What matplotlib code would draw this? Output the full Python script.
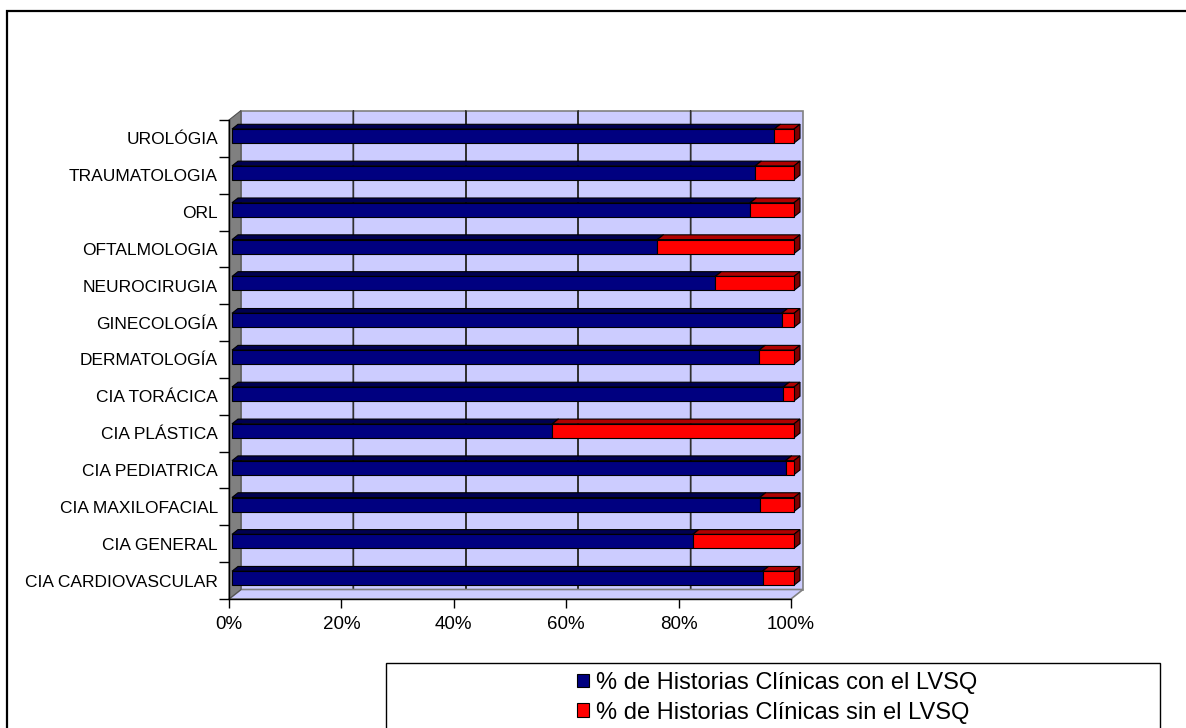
import numpy as np
import matplotlib
matplotlib.use("Agg")
import matplotlib.pyplot as plt
from matplotlib.patches import Polygon, Rectangle, Patch
from matplotlib.transforms import IdentityTransform, offset_copy

plt.rcParams['font.family'] = ['Liberation Sans', 'DejaVu Sans']

# services, listed from top to bottom as shown
servicios = ["UROLÓGIA", "TRAUMATOLOGIA", "ORL", "OFTALMOLOGIA", "NEUROCIRUGIA",
             "GINECOLOGÍA", "DERMATOLOGÍA", "CIA TORÁCICA", "CIA PLÁSTICA",
             "CIA PEDIATRICA", "CIA MAXILOFACIAL", "CIA GENERAL", "CIA CARDIOVASCULAR"]
con_lvsq = [96.5, 93.1, 92.2, 75.7, 86.0, 97.8, 93.8, 98.1, 57.0, 98.5, 93.9, 82.0, 94.4]
sin_lvsq = [100 - v for v in con_lvsq]
xticks = [0, 20, 40, 60, 80, 100]
leyenda = ["% de Historias Clínicas con el LVSQ", "% de Historias Clínicas sin el LVSQ"]

NAVY, NAVY_TOP = "#000080", "#000050"
RED, RED_TOP, RED_SIDE = "#FF0000", "#B00000", "#800000"
WALL = "#CCCCFF"

W, H = 1186, 728
fig = plt.figure(figsize=(W / 100, H / 100), dpi=100)
ax = fig.add_axes([229 / W, 1 - 599 / H, (791 - 229) / W, (599 - 120) / H])

n = len(servicios)
ypos = np.arange(n)[::-1]
ax.set_xlim(0, 100)
ax.set_ylim(-0.5, n - 0.5)
ax.set_autoscale_on(False)
ax.patch.set_visible(False)

# depth of the 3d box in pixels
DX, DY = 12, 9.5


def face(pts, **kw):
    xy = ax.transData.transform([(x, y) for x, y, d in pts])
    d = np.array([p[2] for p in pts])
    xy[:, 0] += d * DX
    xy[:, 1] += d * DY
    p = Polygon(xy, closed=True, transform=IdentityTransform(), clip_on=False, **kw)
    ax.add_artist(p)
    return p


y0, y1 = -0.5, n - 0.5
# back wall, floor, left wall
face([(0, y0, 1), (100, y0, 1), (100, y1, 1), (0, y1, 1)],
     facecolor=WALL, edgecolor="#808080", lw=1.2, zorder=0)
face([(0, y0, 0), (100, y0, 0), (100, y0, 1), (0, y0, 1)],
     facecolor=WALL, edgecolor="#808080", lw=1.2, zorder=0.5)
face([(0, y0, 0), (0, y1, 0), (0, y1, 1), (0, y0, 1)],
     facecolor="#808080", edgecolor="#505050", lw=0.8, zorder=0.6)

# gridlines on the back wall and the floor
for v in xticks[1:-1]:
    face([(v, y0, 0), (v, y0, 1), (v, y1, 1), (v, y0, 1)],
         fill=False, edgecolor="#303030", lw=1.0, zorder=0.4)

# bars: front faces with barh, then top and side faces
h = 0.38
a, b = 0.25, 0.75
front = offset_copy(ax.transData, fig=fig, x=DX * a, y=DY * a, units='dots')
lefts = [0] * n
z = 2
for vals, starts, cf, ct, cs in [(con_lvsq, lefts, NAVY, NAVY_TOP, NAVY),
                                (sin_lvsq, con_lvsq, RED, RED_TOP, RED_SIDE)]:
    for y, v, s in zip(ypos, vals, starts):
        e = s + v
        yt, yb = y + h / 2, y - h / 2
        face([(s, yt, a), (e, yt, a), (e, yt, b), (s, yt, b)],
             facecolor=ct, edgecolor="black", lw=0.8, zorder=z)
        face([(e, yb, a), (e, yt, a), (e, yt, b), (e, yb, b)],
             facecolor=cs, edgecolor="black", lw=0.8, zorder=z)
    ax.barh(ypos, vals, left=starts, height=h, color=cf, edgecolor="black",
            lw=0.8, transform=front, clip_on=False, zorder=z + 0.5)
    z += 1

# axes
for sp in ["top", "right"]:
    ax.spines[sp].set_visible(False)
for sp in ["left", "bottom"]:
    ax.spines[sp].set_color("black")
    ax.spines[sp].set_linewidth(1.0)
    ax.spines[sp].set_zorder(1)

ax.set_yticks(ypos, servicios, fontsize=12.5)
ax.set_yticks(np.arange(n + 1) - 0.5, minor=True)
ax.tick_params(axis="y", which="major", length=0, pad=8)
ax.tick_params(axis="y", which="minor", length=7.2, width=1.0, color="black")
ax.set_xticks(xticks, [f"{v}%" for v in xticks], fontsize=13.5)
ax.tick_params(axis="x", length=6.5, width=1.0, color="black", pad=5.5)

# legend box and outer border
fig.add_artist(Rectangle((386 / W, -0.05), (1160 - 386) / W, 0.05 + 1 - 663 / H,
                         transform=fig.transFigure, fill=False, edgecolor="black", lw=1.0))
fig.add_artist(Rectangle((7 / W, -0.05), 1.1, 1.05 - 11 / H,
                         transform=fig.transFigure, fill=False, edgecolor="black", lw=1.6))
handles = [Patch(facecolor=NAVY, edgecolor="black", lw=0.8),
           Patch(facecolor=RED, edgecolor="black", lw=0.8)]
fig.legend(handles, leyenda, loc="upper left", bbox_to_anchor=(577 / W, 1 - 672 / H),
           frameon=False, fontsize=17, borderpad=0, handlelength=0.5, handleheight=0.5,
           handletextpad=0.3, labelspacing=0.32, borderaxespad=0)

fig.savefig("out.png", dpi=100)
